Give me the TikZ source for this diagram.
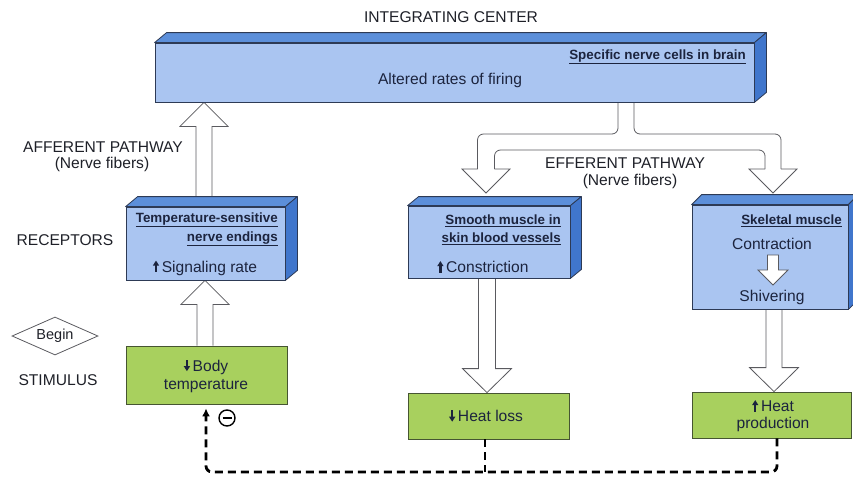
\documentclass[tikz,border=0pt]{standalone}
\usepackage{fontspec}
\setmainfont{Liberation Sans}
\usetikzlibrary{shapes.geometric,calc,arrows.meta}
\pgfdeclarelayer{bg}
\pgfsetlayers{bg,main}
\definecolor{frontblue}{RGB}{170,197,241}
\definecolor{topblue}{RGB}{92,143,218}
\definecolor{sideblue}{RGB}{64,118,204}
\definecolor{edgecol}{RGB}{45,58,85}
\definecolor{greenbox}{RGB}{168,208,94}
\definecolor{greenedge}{RGB}{70,85,50}
\definecolor{txt}{RGB}{30,32,40}
\definecolor{boxtxt}{RGB}{28,36,62}
\definecolor{arrcol}{RGB}{90,90,95}
\newcommand\lbl{\fontsize{15.6}{18}\selectfont}
\newcommand\ttl{\fontsize{13.4}{15}\selectfont\bfseries}
\newcommand\uarr{\tikz[baseline=0pt,x=1pt,y=1pt]{\fill (-1.2,0) rectangle (1.2,7.5); \fill (-3.2,6.5) -- (3.2,6.5) -- (0,11.5) -- cycle;}\,}
\newcommand\darr{\tikz[baseline=0pt,x=1pt,y=1pt]{\fill (-1.2,11.5) rectangle (1.2,4); \fill (-3.2,5) -- (3.2,5) -- (0,0) -- cycle;}\,}
\newcommand\boxfaces[3]{%
  \filldraw[topface] (#1.north west) -- ++(#2,-#3) -- ($(#1.north east)+(#2,-#3)$) -- (#1.north east) -- cycle;
  \filldraw[sideface] (#1.north east) -- ++(#2,-#3) -- ($(#1.south east)+(#2,-#3)$) -- (#1.south east) -- cycle;}
% block arrow: from, to, half shaft, half head, head length
\newcommand\blockarrow[5]{%
  \filldraw[blockarr] let \p1=#1, \p2=#2, \n1={ifthenelse(\y2>\y1,-1,1)} in
   (\x2-#3pt,\y1) -- (\x2-#3pt,\y2+\n1*#5pt) -- (\x2-#4pt,\y2+\n1*#5pt) -- (\x2,\y2)
   -- (\x2+#4pt,\y2+\n1*#5pt) -- (\x2+#3pt,\y2+\n1*#5pt) -- (\x2+#3pt,\y1);}
\begin{document}
\begin{tikzpicture}[x=1pt,y=-1pt,
  frontface/.style={draw=edgecol, fill=frontblue, line width=0.8pt, inner sep=0pt},
  topface/.style={draw=edgecol, fill=topblue, line width=0.8pt, line join=round},
  sideface/.style={draw=edgecol, fill=sideblue, line width=0.8pt, line join=round},
  greenface/.style={draw=greenedge, fill=greenbox, line width=0.8pt, inner sep=0pt},
  blockarr/.style={draw=arrcol, fill=white, line width=0.8pt, line join=miter},
  arrline/.style={draw=arrcol, line width=0.8pt},
  label/.style={text=txt, font=\lbl, inner sep=1pt},
  btext/.style={text=boxtxt, font=\lbl, inner sep=1pt},
  btitle/.style={text=boxtxt, font=\ttl, inner sep=1pt},
  fb/.style={line width=2.8pt, dash pattern=on 8pt off 5pt, black}]
\useasboundingbox (0,0) rectangle (853,479);

% ---- boxes ----
\node[frontface, minimum width=599pt, minimum height=59pt] (ic) at (454.5,72.5) {};
\boxfaces{ic}{12}{10}
\node[frontface, minimum width=159pt, minimum height=73pt] (rec) at (205.5,243.5) {};
\boxfaces{rec}{12}{10}
\node[frontface, minimum width=162pt, minimum height=72pt] (sm) at (489,242) {};
\boxfaces{sm}{11}{9}
\node[frontface, minimum width=156pt, minimum height=104pt] (sk) at (770,257) {};
\boxfaces{sk}{10}{10}
\node[greenface, minimum width=161pt, minimum height=58pt] (bt) at (206.5,375) {};
\node[greenface, minimum width=161pt, minimum height=46pt] (hl) at (488.5,416) {};
\node[greenface, minimum width=159pt, minimum height=46pt] (hp) at (771.5,415) {};

% ---- texts ----
\node[label] (ictitle) at (451,17) {INTEGRATING CENTER};
\node[btitle, anchor=east] (icname) at (747,57) {\underline{Specific nerve cells in brain}};
\node[btext] (icfire) at (450,80) {Altered rates of firing};

\node[label] (aff) at (103,147) {AFFERENT PATHWAY};
\node[label] (affn) at (102,164) {(Nerve fibers)};
\node[label] (recl) at (65,240) {RECEPTORS};
\node[btitle, anchor=east] (rect1) at (279,220) {\underline{Temperature-sensitive}};
\node[btitle, anchor=east] (rect2) at (279,239) {\underline{nerve endings}};
\node[btext] (recsig) at (205,268) {\uarr Signaling rate};

\node[btitle, anchor=east] (smt1) at (562,221) {\underline{Smooth muscle in}};
\node[btitle, anchor=east] (smt2) at (562,239) {\underline{skin blood vessels}};
\node[btext, anchor=west] (smc) at (436,267) {\uarr Constriction};

\node[btitle, anchor=east] (skt) at (843,221) {\underline{Skeletal muscle}};
\node[btext] (con) at (772,244) {Contraction};
\node[btext] (shv) at (772,297) {Shivering};

\node[diamond, draw=arrcol, line width=0.8pt, aspect=2.3, minimum width=86pt, minimum height=38pt, inner sep=0pt, text=txt, font=\fontsize{14.5}{16}\selectfont] (begin) at (55,336) {Begin};
\node[label] (stim) at (58,380) {STIMULUS};
\node[btext, align=center] (btt) at (206,376) {\darr Body\\temperature};
\node[btext] (hlt) at (486,416) {\darr Heat loss};
\node[btext, align=center] (hpt) at (773,416) {\uarr Heat\\[-1pt]production};

\node[label] (eff) at (625,163) {EFFERENT PATHWAY};
\node[label] (effn) at (630,181) {(Nerve fibers)};

% ---- block arrows (behind boxes) ----
\begin{pgfonlayer}{bg}
\blockarrow{(rec.north)}{($(rec.north|-ic.south)+(-1.5,0)$)}{8}{24}{24}
\blockarrow{(bt.north)}{($(bt.north|-rec.south)+(-1.5,0)$)}{8}{24}{24}
\blockarrow{(sm.south)}{($(sm.south|-hl.north)+(-2,0)$)}{8.5}{24.5}{24}
\blockarrow{(sk.south)}{($(sk.south|-hp.north)+(4,0)$)}{8}{24.5}{24}
% efferent branching arrow
\fill[white] (618,102) -- (618,134) -- (477.5,134) -- (477.5,169) -- (462,169) -- (486,193) -- (510,169) -- (494.5,169) -- (494.5,150) -- (765,150) -- (765,169) -- (749,169) -- (773,193) -- (797,169) -- (781,169) -- (781,134) -- (634,134) -- (634,102) -- cycle;
\draw[arrline, rounded corners=6pt] (477.5,169) -- (477.5,134) -- (618,134) -- (618,102);
\draw[arrline, rounded corners=6pt] (494.5,169) -- (494.5,150) -- (765,150) -- (765,169);
\draw[arrline, rounded corners=6pt] (781,169) -- (781,134) -- (634,134) -- (634,102);
\draw[arrline, line join=miter] (477.5,169) -- (462,169) -- (486,193) -- (510,169) -- (494.5,169);
\draw[arrline, line join=miter] (765,169) -- (749,169) -- (773,193) -- (797,169) -- (781,169);
\end{pgfonlayer}
% small arrow inside skeletal muscle box
\filldraw[blockarr] (767.5,255) -- (767.5,270) -- (758,270) -- (773,285) -- (788,270) -- (778.5,270) -- (778.5,255) -- cycle;

% ---- feedback ----
\coordinate (fbr) at (777,472);
\coordinate (fbl) at (206,472);
\draw[fb, rounded corners=6pt, -{Latex[length=8pt,width=8pt]}] ($(hp.south)+(5.5,0)$) -- (fbr) -- (fbl) -- ($(bt.south)+(-0.5,4)$);
\draw[fb] ($(hl.south)+(-3.5,0)$) -- ($(hl.south)+(-3.5,33)$);
\node[circle, draw=black, line width=1.4pt, minimum size=16pt, inner sep=0pt] (neg) at (227,418) {};
\draw[line width=1.6pt] ($(neg.center)+(-4.5,0)$) -- ($(neg.center)+(4.5,0)$);
\end{tikzpicture}
\end{document}
